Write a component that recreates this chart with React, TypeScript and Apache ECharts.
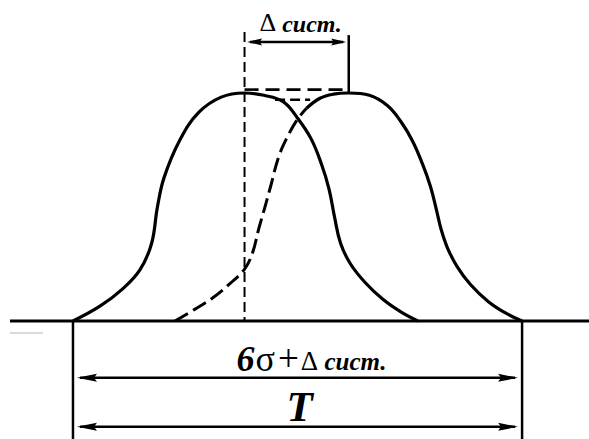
import React, { useEffect, useRef } from 'react';
import * as echarts from 'echarts';

const SERIF = '"Liberation Serif", "DejaVu Serif", serif';

// Scatter of sizes around the set-up centre: [position, % of T], [relative frequency]
const curveCentred: [number, number][] = [
  [0, 0], [6, 0.065], [11, 0.14], [14.9, 0.224], [17.5, 0.34], [18.8, 0.5], [20.3, 0.63],
  [23.8, 0.794], [28, 0.915], [33, 0.982], [38.2, 1], [42.5, 0.99], [46.8, 0.962], [50, 0.89],
  [53, 0.8], [55.3, 0.69], [57, 0.58], [58.3, 0.45], [59.6, 0.34], [61.8, 0.25], [65, 0.17],
  [69, 0.095], [73, 0.04], [76.8, 0],
];

// The same scatter displaced by the systematic error: hidden (dashed) branch
const curveShiftedHidden: [number, number][] = [
  [22.7, 0], [27, 0.05], [31, 0.1], [35, 0.165], [38.2, 0.228], [40, 0.3], [41.3, 0.4],
  [42.6, 0.49], [44, 0.59], [45.8, 0.72], [47.8, 0.81], [50, 0.885], [52, 0.933],
];

// ... and its visible (solid) branch
const curveShiftedVisible: [number, number][] = [
  [52, 0.933], [55, 0.977], [58, 0.995], [61.4, 1], [66, 0.99], [70, 0.945], [73, 0.875],
  [75.6, 0.79], [77.8, 0.69], [79.6, 0.59], [80.9, 0.49], [82, 0.4], [83.4, 0.32], [85.5, 0.24],
  [88.5, 0.16], [92.5, 0.085], [96.6, 0.032], [100, 0],
];

// Centre of scatter and the centre displaced by the systematic error
const centres = [38.2, 61.4];
// Tolerance field T
const toleranceLimits = [0, 100];
// Dimension captions
const dimensionLabels = [
  '{d|Δ}{c| сист.}',
  '{n|6}{s|σ}{p|+}{d|Δ}{c| сист.}',
  '{t|T}',
];

const X_MIN = -16.25;
const X_MAX = 114.9;
const Y_MIN = -0.5175;
const Y_MAX = 1.408;

const richStyles = {
  n: { fontFamily: SERIF, fontSize: 36, fontWeight: 'bold', fontStyle: 'italic', verticalAlign: 'bottom' },
  s: { fontFamily: SERIF, fontSize: 36, fontWeight: 'normal', verticalAlign: 'bottom', padding: [0, 2, 0, 1] },
  p: { fontFamily: SERIF, fontSize: 37, fontWeight: 'normal', verticalAlign: 'bottom', padding: [0, 1, 0, 1] },
  d: { fontFamily: SERIF, fontSize: 27, fontWeight: 'normal', verticalAlign: 'bottom', padding: [0, 0, 2, 1] },
  c: { fontFamily: SERIF, fontSize: 25, fontWeight: 'bold', fontStyle: 'italic', verticalAlign: 'bottom', padding: [0, 0, 2.5, 0] },
  t: { fontFamily: SERIF, fontSize: 43, fontWeight: 'bold', fontStyle: 'italic', verticalAlign: 'bottom' },
};

const topRich = {
  d: { fontFamily: SERIF, fontSize: 26, fontWeight: 'normal', verticalAlign: 'bottom' },
  c: { fontFamily: SERIF, fontSize: 24, fontWeight: 'bold', fontStyle: 'italic', verticalAlign: 'bottom' },
};

type Guide = { a: number[]; b: number[]; width: number; dash?: number[]; color?: string };

function buildOption() {
  const guides: Guide[] = [
    // base line
    { a: [X_MIN + 2.23, 0], b: [X_MAX, 0], width: 3 },
    { a: [X_MIN + 2.23, -0.053], b: [X_MIN + 9.6, -0.053], width: 1.5, color: '#cfcfcf' },
    // tolerance limits
    { a: [toleranceLimits[0], 0], b: [toleranceLimits[0], Y_MIN], width: 2.5 },
    { a: [toleranceLimits[1], 0], b: [toleranceLimits[1], Y_MIN], width: 2.5 },
    // centre lines
    { a: [centres[0], 1.268], b: [centres[0], 0], width: 2, dash: [10, 5] },
    { a: [centres[1], 1.254], b: [centres[1], 1.0], width: 2.5 },
    { a: [centres[0], 1.015], b: [centres[1], 1.015], width: 2.6, dash: [14, 7] },
    { a: [45, 0.971], b: [52.8, 0.971], width: 2.5, dash: [10, 5] },
  ];

  const dims = [
    { from: centres[0], to: centres[1], level: 1.224, head: [15, 3.5], inset: 2.5, dx: 4, dy: -6, rich: topRich },
    { from: toleranceLimits[0], to: toleranceLimits[1], level: -0.249, head: [20, 4], inset: 4, dx: 14, dy: -1, rich: richStyles },
    { from: toleranceLimits[0], to: toleranceLimits[1], level: -0.464, head: [20, 4], inset: 4, dx: 2, dy: 1, rich: richStyles },
  ];

  const curveBase = {
    type: 'line' as const,
    smooth: 0.4,
    showSymbol: false,
    symbol: 'none',
    silent: true,
    clip: false,
  };

  return {
    animation: false,
    backgroundColor: '#ffffff',
    grid: { left: 0, right: 0, top: 0, bottom: 0 },
    xAxis: { type: 'value', min: X_MIN, max: X_MAX, show: false },
    yAxis: { type: 'value', min: Y_MIN, max: Y_MAX, show: false },
    series: [
      {
        type: 'custom',
        silent: true,
        clip: false,
        data: guides.map((g) => g.a),
        encode: { x: 0, y: 1 },
        renderItem: (params: any, api: any) => {
          const g = guides[params.dataIndex];
          const p1 = api.coord(g.a);
          const p2 = api.coord(g.b);
          return {
            type: 'line',
            shape: { x1: p1[0], y1: p1[1], x2: p2[0], y2: p2[1] },
            style: { stroke: g.color || '#000', lineWidth: g.width, lineDash: g.dash || null, fill: null },
          };
        },
      },
      { ...curveBase, data: curveCentred, lineStyle: { color: '#000', width: 3.2 } },
      { ...curveBase, data: curveShiftedHidden, lineStyle: { color: '#000', width: 3, type: [15, 6] } },
      { ...curveBase, data: curveShiftedVisible, lineStyle: { color: '#000', width: 3.2 } },
      {
        type: 'custom',
        silent: true,
        clip: false,
        data: dims.map((d) => [d.from, d.level]),
        encode: { x: 0, y: 1 },
        renderItem: (params: any, api: any) => {
          const d = dims[params.dataIndex];
          const p1 = api.coord([d.from, d.level]);
          const p2 = api.coord([d.to, d.level]);
          const y = p1[1];
          const xl = p1[0] + d.inset;
          const xr = p2[0] - d.inset;
          const [len, half] = d.head;
          return {
            type: 'group',
            children: [
              {
                type: 'line',
                shape: { x1: xl + 3, y1: y, x2: xr - 3, y2: y },
                style: { stroke: '#000', lineWidth: 2.5 },
              },
              {
                type: 'polygon',
                shape: { points: [[xl, y], [xl + len, y - half], [xl + len * 0.85, y], [xl + len, y + half]] },
                style: { fill: '#000' },
              },
              {
                type: 'polygon',
                shape: { points: [[xr, y], [xr - len, y - half], [xr - len * 0.85, y], [xr - len, y + half]] },
                style: { fill: '#000' },
              },
              {
                type: 'text',
                x: (p1[0] + p2[0]) / 2 + d.dx,
                y: y + d.dy,
                style: {
                  text: dimensionLabels[params.dataIndex],
                  rich: d.rich,
                  fill: '#000',
                  textAlign: 'center',
                  textVerticalAlign: 'bottom',
                },
              },
            ],
          };
        },
      },
    ],
  };
}

export default function App() {
  const ref = useRef<HTMLDivElement>(null);
  useEffect(() => {
    const chart = echarts.init(ref.current!, undefined, { renderer: 'svg' });
    chart.setOption(buildOption() as any);
    return () => chart.dispose();
  }, []);
  return (
    <div
      ref={ref}
      style={{ position: 'fixed', left: 0, top: 0, width: 589, height: 439, background: '#fff' }}
    />
  );
}
